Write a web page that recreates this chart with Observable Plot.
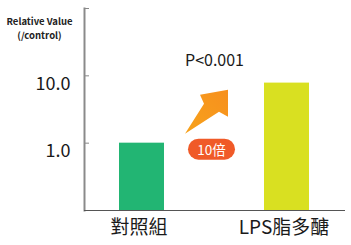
<!DOCTYPE html>
<html>
<head>
<meta charset="utf-8">
<script src="https://cdn.jsdelivr.net/npm/d3@7"></script>
<script src="https://cdn.jsdelivr.net/npm/@observablehq/plot@0.6"></script>
<style>
  html, body { margin: 0; padding: 0; background: #fff; }
  #chart svg { display: block; }
</style>
</head>
<body>
<div id="chart"></div>
<script>
const categories = ["對照組", "LPS脂多醣"];
const values = [1.0, 7.8];
const colors = ["#22b573", "#d9e021"];
const yTicks = [1, 10, 100];
const yTickLabels = ["1.0", "10.0", ""];
const yLabelLines = ["Relative Value", "(/control)"];
const pText = "P<0.001";
const foldText = "10倍";

const data = categories.map((c, i) => ({category: c, value: values[i], color: colors[i]}));
const font = '"Noto Sans CJK TC", "Noto Sans", sans-serif';
const values0 = [values[0]];

// Custom decoration: fat orange arrow + "10倍" badge placed in the gap between bars
function foldBadge(index, scales) {
  const x = scales.x, y = scales.y;
  const bw = x.bandwidth();
  const gx = (x(categories[0]) + bw + x(categories[1])) / 2;
  const gy = y(values0[0]);
  const ns = "http://www.w3.org/2000/svg";
  const g = document.createElementNS(ns, "g");
  const defs = document.createElementNS(ns, "defs");
  defs.innerHTML = '<linearGradient id="ag" x1="0" y1="1" x2="1" y2="0"><stop offset="0" stop-color="#f7a21b"/><stop offset="1" stop-color="#f7901e"/></linearGradient>';
  g.appendChild(defs);
  const pts = [[-29, -9], [-10, -39], [-14, -48], [14, -53], [14, -26], [5, -31]];
  const path = document.createElementNS(ns, "path");
  path.setAttribute("d", "M" + pts.map(p => (gx + p[0]) + "," + (gy + p[1])).join("L") + "Z");
  path.setAttribute("fill", "url(#ag)");
  g.appendChild(path);
  const rect = document.createElementNS(ns, "rect");
  rect.setAttribute("x", gx - 26); rect.setAttribute("y", gy - 4);
  rect.setAttribute("width", 47); rect.setAttribute("height", 21);
  rect.setAttribute("rx", 10.5);
  rect.setAttribute("fill", "#f05a28");
  g.appendChild(rect);
  const t = document.createElementNS(ns, "text");
  t.setAttribute("x", gx - 2.5); t.setAttribute("y", gy + 6.5);
  t.setAttribute("text-anchor", "middle");
  t.setAttribute("dominant-baseline", "central");
  t.setAttribute("fill", "#fff");
  t.setAttribute("font-size", 13.5);
  t.setAttribute("font-family", font);
  t.textContent = foldText;
  g.appendChild(t);
  return g;
}

const chart = Plot.plot({
  width: 351,
  height: 245,
  marginLeft: 84,
  marginRight: 7,
  marginTop: 8,
  marginBottom: 35,
  style: {fontFamily: font, background: "#fff"},
  x: {type: "band", domain: categories, paddingInner: 0.69, paddingOuter: 0.24, axis: null},
  y: {type: "log", domain: [0.1, 100], axis: null},
  marks: [
    Plot.barY(data, {x: "category", y1: 0.1, y2: "value", fill: "color"}),
    Plot.axisY({ticks: yTicks, tickSize: -5, stroke: "#888", tickFormat: () => "", label: null}),
    Plot.axisY({ticks: yTicks, tickSize: 0, tickPadding: 14, dy: 8, label: null,
      tickFormat: d => yTickLabels[yTicks.indexOf(d)], fontSize: 18, fill: "#1a1a1a"}),
    Plot.axisX({tickSize: 0, tickPadding: 10, fontSize: 19, fill: "#1a1a1a", dx: -3, label: null}),
    Plot.frame({anchor: "left", stroke: "#8a8a8a", strokeWidth: 2}),
    Plot.frame({anchor: "bottom", stroke: "#555", strokeWidth: 1}),
    Plot.text([pText], {frameAnchor: "top", dy: 46, fontSize: 16, fill: "#1a1a1a"}),
    Plot.text([yLabelLines[0]], {frameAnchor: "top-left", dx: -45, dy: 9.5, textAnchor: "middle", fontSize: 9.5, fontWeight: "bold", fill: "#222"}),
    Plot.text([yLabelLines[1]], {frameAnchor: "top-left", dx: -45, dy: 24, textAnchor: "middle", fontSize: 9.5, fontWeight: "bold", fill: "#222"}),
    foldBadge
  ]
});
document.getElementById("chart").appendChild(chart);
</script>
</body>
</html>
